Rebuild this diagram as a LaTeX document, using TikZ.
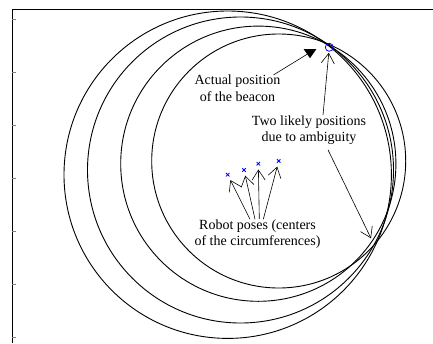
\documentclass[tikz,border=0pt]{standalone}
\usepackage{fontspec}
\setmainfont{Liberation Serif}
\usetikzlibrary{arrows.meta,shapes.geometric,shapes.misc}
\begin{document}
\begin{tikzpicture}[x=1pt,y=-1pt,
 ring/.style={draw=black,line width=0.9pt},
 pose/.style={cross out,draw=blue,line width=0.8pt,minimum size=3.5pt,inner sep=0pt,outer sep=0pt},
 lbl/.style={font=\fontsize{14}{16.5}\selectfont,align=center,inner sep=0pt},
 arr/.style={line width=0.6pt,-{Straight Barb[length=10pt,width=13pt,line width=0.6pt]}},
 parr/.style={arr,shorten >=4pt},
 ticky/.style={draw=gray,line width=0.8pt}]
\useasboundingbox (0,0) rectangle (433,343);
% frame and ticks
\draw[line width=1pt] (12,343) -- (12,9) -- (433,9);
\foreach \y in {19.5,72.5,125.5,178.5,231.5,284.5,337.5} \draw[ticky] (12,\y) -- (15.5,\y);
% circles
\draw[ring] (227.7,174.7) circle[radius=163.7pt];
\draw[ring] (240.5,170) circle[radius=153pt];
\draw[ring] (258.3,163.7) circle[radius=137.6pt];
\draw[ring] (278.7,161) circle[radius=127pt];
% markers
\node[pose] (p1) at (227.7,174.7) {};
\node[pose] (p2) at (244,170) {};
\node[pose] (p3) at (258.3,163.7) {};
\node[pose] (p4) at (278.7,161) {};
\node[draw=blue,circle,minimum size=8pt,inner sep=0pt,line width=0.8pt,outer sep=1.5pt] (bc) at (329.3,47.3) {};
\node[isosceles triangle,isosceles triangle apex angle=70,shape border rotate=-90,fill=black,minimum height=9pt,minimum width=12pt,inner sep=0pt] (tri) at (310,52.5) {};
\coordinate (amb2) at (371,238.3);
% labels
\node[lbl] (beacon) at (237.5,88.3) {Actual position\\of the beacon};
\node[lbl] (ambig) at (309,130) {Two likely positions\\due to ambiguity};
\node[lbl] (robot) at (257.5,234) {Robot poses (centers\\of the circumferences)};
% connectors
\draw[line width=0.6pt] ([xshift=36pt]beacon.north) -- (tri);
\draw[arr] ([xshift=14pt]ambig.north) -- (bc);
\draw[arr] ([xshift=19pt,yshift=-5pt]ambig.south) -- (amb2);
\draw[parr] ([xshift=-7.5pt]robot.north) -- (p1);
\draw[parr] ([xshift=-2.5pt]robot.north) -- (p2);
\draw[parr] ([xshift=1.8pt]robot.north) -- (p3);
\draw[parr] ([xshift=5.8pt]robot.north) -- (p4);
\end{tikzpicture}
\end{document}
